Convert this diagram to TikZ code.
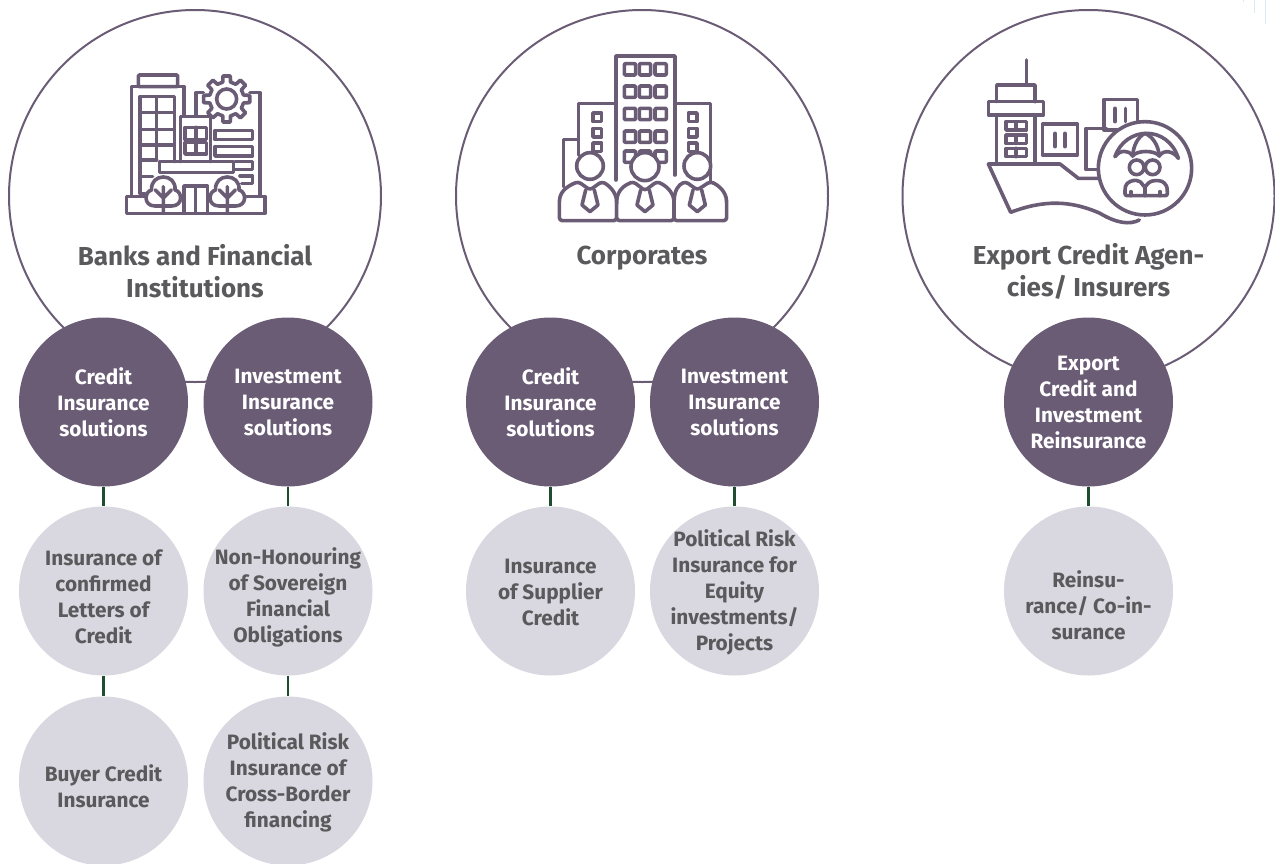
\documentclass[tikz,border=0pt]{standalone}
\usepackage{fontspec}
\setmainfont{Fira Sans}
\definecolor{plum}{HTML}{6B5C76}
\definecolor{pale}{HTML}{D9D7DF}
\definecolor{txt}{HTML}{5A5A5C}
\definecolor{stem}{HTML}{1F4D30}
\definecolor{faint}{HTML}{DCEBF1}
\tikzset{
 big/.style={circle,draw=plum,line width=2pt,minimum size=372pt,inner sep=0pt},
 dark/.style={circle,fill=plum,minimum size=169pt,inner sep=0pt},
 light/.style={circle,fill=pale,minimum size=169pt,inner sep=0pt},
 bigtxt/.style={align=center,text=txt,font=\bfseries\fontsize{26}{32}\selectfont,inner sep=0pt},
 wtxt/.style={align=center,text=white,font=\bfseries\fontsize{20.8}{26}\selectfont,inner sep=0pt},
 gtxt/.style={align=center,text=txt,font=\bfseries\fontsize{20.8}{26}\selectfont,inner sep=0pt},
 stemline/.style={draw=stem,line width=2.5pt},
 ico/.style={draw=plum,line width=3.6pt,line join=round,line cap=round},
 wico/.style={ico,fill=white}
}
\begin{document}
\begin{tikzpicture}[x=1pt,y=-1pt]
\clip (0,0) rectangle (1275,863);
\fill[white] (0,0) rectangle (1275,863);
\draw[faint,line width=.8pt] (1243,0)--(1243,2) (1254,0)--(1254,13) (1265,0)--(1265,24);
% big circles
\node[big] (b1) at (195,196) {};
\node[big] (b2) at (642,196) {};
\node[big] (b3) at (1088.5,196) {};
\node[bigtxt] (b1t) at (195,271) {Banks and Financial\\Institutions};
\node[bigtxt] (b2t) at (642,258) {Corporates};
\node[bigtxt] (b3t) at (1088.5,271) {Export Credit Agen-\\cies/ Insurers};
% level circles
\node[dark] (d1) at (103.5,402) {};
\node[dark] (d2) at (288,402) {};
\node[dark] (d3) at (550.5,402) {};
\node[dark] (d4) at (734.5,402) {};
\node[dark] (d5) at (1088.5,402) {};
\node[light] (l1) at (103.5,591) {};
\node[light] (l2) at (288,591) {};
\node[light] (l3) at (550.5,591) {};
\node[light] (l4) at (734.5,591) {};
\node[light] (l5) at (1088.5,591) {};
\node[light] (m1) at (103.5,781) {};
\node[light] (m2) at (288,781) {};
\draw[stemline] (d1)--(l1) (l1)--(m1) (d2)--(l2) (l2)--(m2) (d3)--(l3) (d4)--(l4) (d5)--(l5);
\node[wtxt] (d1t) at (103.5,402) {Credit\\Insurance\\solutions};
\node[wtxt] (d2t) at (288,402) {Investment\\Insurance\\solutions};
\node[wtxt] (d3t) at (550.5,402) {Credit\\Insurance\\solutions};
\node[wtxt] (d4t) at (734.5,402) {Investment\\Insurance\\solutions};
\node[wtxt] (d5t) at (1088.5,402) {Export\\Credit and\\Investment\\Reinsurance};
\node[gtxt] (l1t) at (103.5,597) {Insurance of\\confirmed\\Letters of\\Credit};
\node[gtxt] (l2t) at (288,597) {Non-Honouring\\of Sovereign\\Financial\\Obligations};
\node[gtxt] (l3t) at (550.5,592) {Insurance\\of Supplier\\Credit};
\node[gtxt] (l4t) at (734.5,592) {Political Risk\\Insurance for\\Equity\\investments/\\Projects};
\node[gtxt] (l5t) at (1088.5,605) {Reinsu-\\rance/ Co-in-\\surance};
\node[gtxt] (m1t) at (103.5,786) {Buyer Credit\\Insurance};
\node[gtxt] (m2t) at (288,782) {Political Risk\\Insurance of\\Cross-Border\\financing};
% icon 1
\begin{scope}[shift={(110,50)},x=.3333pt,y=-.3333pt]
\draw[ico,rounded corners=1pt] (85,75) rectangle (203,110);
\draw[ico] (65,438)--(65,110)--(222,110)--(222,198);
\draw[ico] (105,430)--(90,430)--(90,140)--(193,140)--(193,335);
\draw[ico] (140,140)--(140,330);
\draw[ico] (90,188)--(193,188) (90,238)--(193,238) (90,285)--(193,285) (90,330)--(140,330) (90,380)--(128,380);
\draw[ico] (280,128)--(258,128)--(258,198) (420,128)--(450,128)--(450,438);
\draw[ico,shift={(350,147)}] (-13:52) \foreach \a in {0,45,...,315}{ -- ({\a-13}:52) -- ({\a-9}:70) -- ({\a+9}:70) -- ({\a+13}:52)} -- cycle;
\draw[ico] (350,147) circle (30);
\draw[ico] (212,335)--(212,200)--(302,200)--(302,335);
\draw[ico] (225,232) rectangle (290,268) (258,232)--(258,268) (225,278) rectangle (290,312) (258,278)--(258,312);
\draw[ico] (315,242) rectangle (428,268) (315,290) rectangle (428,318);
\draw[ico] (375,335)--(428,335)--(428,358)--(375,358) (390,378)--(428,378)--(428,400)--(395,400);
\draw[ico] (148,335) rectangle (370,368);
\draw[ico] (120,440)--(50,440)--(50,490)--(465,490)--(465,440)--(400,440);
\draw[ico] (222,490)--(222,408)--(292,408)--(292,490) (257,408)--(257,490);
\foreach \cx in {160,352}{
 \draw[wico] (\cx-25,468) .. controls (\cx-60,468) and (\cx-58,425) .. (\cx-35,420) .. controls (\cx-40,368) and (\cx+40,368) .. (\cx+35,420) .. controls (\cx+58,425) and (\cx+60,468) .. (\cx+25,468) -- cycle;
 \draw[ico] (\cx,490)--(\cx,410) (\cx-24,420)--(\cx,444)--(\cx+24,420);
}
\end{scope}
% icon 2
\begin{scope}[shift={(540,40)},x=.3333pt,y=-.3333pt]
\draw[ico] (228,420)--(228,48)--(405,48)--(405,405);
\foreach \yy in {88,155,222,290,350}\foreach \xx in {270,315,362}
 \draw[ico,rounded corners=1pt] (\xx-17,\yy-17) rectangle (\xx+17,\yy+17);
\draw[ico] (115,345)--(115,190)--(228,190) (70,440)--(70,298)--(115,298) (405,190)--(512,190)--(512,430);
\foreach \xx in {172,458}\foreach \yy in {232,278,322}
 \draw[ico] (\xx-13,\yy-13) rectangle (\xx+13,\yy+13);
\draw[wico] (150,378) circle (40) (315,380) circle (42) (472,378) circle (40);
\draw[wico,rounded corners=3pt] (58,542)--(58,490) .. controls (60,450) and (90,435) .. (115,425) -- (150,450) -- (185,425) .. controls (205,435) and (228,455) .. (230,490) -- (230,542) -- cycle;
\draw[wico,rounded corners=3pt] (230,542)--(230,490) .. controls (232,450) and (255,435) .. (280,425) -- (315,452) -- (350,425) .. controls (375,435) and (400,455) .. (402,490) -- (402,542) -- cycle;
\draw[wico,rounded corners=3pt] (402,542)--(402,490) .. controls (404,450) and (415,435) .. (437,425) -- (472,450) -- (510,425) .. controls (535,435) and (558,455) .. (560,490) -- (560,542) -- cycle;
\foreach \xx in {150,315,472}
 \draw[ico] (\xx-13,450)--(\xx-24,495)--(\xx,515)--(\xx+24,495)--(\xx+13,450);
\end{scope}
% icon 3
\begin{scope}[shift={(960,50)},x=.3333pt,y=-.3333pt]
\draw[ico] (200,30)--(200,105);
\draw[ico] (110,155)--(110,105)--(225,105)--(225,155);
\draw[ico] (85,155) rectangle (250,195);
\draw[ico] (110,195)--(110,342) (225,195)--(225,342);
\foreach \yy in {215,255,295}
 \draw[ico] (138,\yy) rectangle (200,\yy+25) (168,\yy)--(168,\yy+25);
\draw[ico] (248,222) rectangle (352,315) (285,250)--(285,290) (315,250)--(315,290);
\draw[ico] (378,358)--(378,235)--(440,235) (378,358)--(415,358);
\draw[ico] (432,240)--(432,148)--(532,148)--(532,225) (432,240)--(470,240) (465,175)--(465,215) (497,175)--(497,215);
\draw[ico] (85,342)--(300,342)--(355,385)--(415,385);
\draw[ico] (85,342)--(152,487) .. controls (250,450) and (330,450) .. (420,490) .. controls (470,520) and (510,525) .. (538,510);
\draw[wico] (555,355) circle (140);
\draw[ico] (465,320) .. controls (480,275) and (520,250) .. (560,250) .. controls (600,250) and (640,275) .. (655,325);
\draw[ico] (465,320) .. controls (480,300) and (505,298) .. (518,318) .. controls (530,300) and (585,300) .. (598,318) .. controls (610,298) and (640,302) .. (655,325);
\draw[ico] (518,318) .. controls (520,285) and (535,260) .. (555,250) .. controls (578,260) and (595,285) .. (598,318);
\draw[ico] (530,352) circle (22) (578,352) circle (22);
\draw[ico,rounded corners=2pt] (495,437)--(495,415) .. controls (500,395) and (520,390) .. (535,392) .. controls (545,398) and (548,405) .. (555,412) .. controls (562,402) and (570,392) .. (590,392) .. controls (610,392) and (620,405) .. (622,420) -- (622,437) -- cycle;
\draw[ico] (513,437)--(513,425) (555,437)--(555,412) (600,437)--(600,425);
\end{scope}
\end{tikzpicture}
\end{document}
